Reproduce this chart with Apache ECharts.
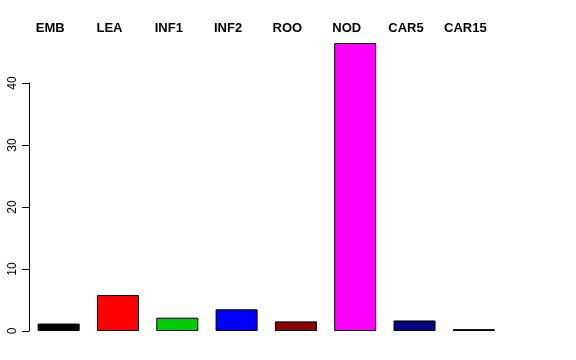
<!DOCTYPE html>
<html><head><meta charset="utf-8">
<script src="https://cdn.jsdelivr.net/npm/echarts@6/dist/echarts.min.js"></script>
<style>html,body{margin:0;padding:0;background:#fff}#c{width:576px;height:360px}</style>
</head><body><div id="c"></div>
<script>
const categories = ['EMB','LEA','INF1','INF2','ROO','NOD','CAR5','CAR15'];
const values = [1.2, 5.8, 2.15, 3.5, 1.55, 46.45, 1.7, 0.3];
const colors = ['#000000','#FF0000','#00CD00','#0000FF','#8B0000','#FF00FF','#000080','#006400'];
const yTicks = [0, 10, 20, 30, 40];

const chart = echarts.init(document.getElementById('c'), null, {renderer:'canvas'});
chart.setOption({
  animation: false,
  backgroundColor: '#ffffff',
  grid: {left: 29, right: 72.5, top: 83, bottom: 29, containLabel: false},
  xAxis: {
    type: 'category', data: categories, position: 'top',
    axisLine: {show: false}, axisTick: {show: false},
    axisLabel: {show: true, margin: 48, fontFamily: 'Liberation Sans', fontWeight: 'bold', fontSize: 13, color: '#000', padding: [0, 17, 0, 0]},
    splitLine: {show: false}
  },
  yAxis: {
    type: 'value', min: yTicks[0], max: yTicks[yTicks.length-1], interval: 10,
    axisLine: {show: true, lineStyle: {color: '#000', width: 1}},
    axisTick: {show: true, length: 7, lineStyle: {color: '#000'}},
    axisLabel: {rotate: 90, margin: 10, fontFamily: 'Liberation Sans', fontSize: 12, color: '#000'},
    splitLine: {show: false}
  },
  series: [{
    type: 'bar', barWidth: 42, clip: false,
    data: values.map((v, i) => ({value: v, itemStyle: {color: colors[i]}})),
    itemStyle: {borderColor: '#000', borderWidth: 1}
  }]
});
</script></body></html>
